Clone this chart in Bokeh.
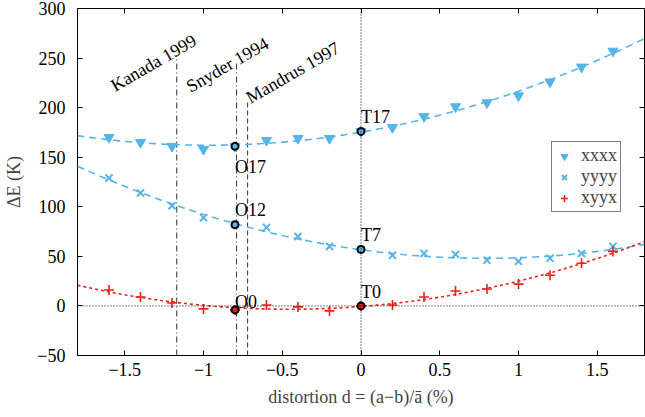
import numpy as np
from bokeh.plotting import figure
from bokeh.models import (ColumnDataSource, Range1d, LinearAxis, FixedTicker,
                          CustomJSTickFormatter, Legend, LegendItem, Span)
from bokeh.core.properties import value
from bokeh.embed import file_html
from bokeh.resources import INLINE

# ---- data ----
d = [-1.6, -1.4, -1.2, -1.0, -0.8, -0.6, -0.4, -0.2, 0.0, 0.2, 0.4, 0.6, 0.8, 1.0, 1.2, 1.4, 1.6]
xxxx = [170, 165, 161, 158, 161, 167, 169, 169, 176, 180, 191, 201, 205, 212, 226, 241, 257]
yyyy = [129, 114, 101, 89, 82, 79, 70, 60, 57, 51, 53, 52, 46, 45, 48, 53, 60]
xyyx = [16, 9, 3, -3, -4, 1, -1, -5, 0, 1, 9, 15, 17, 22, 31, 43, 55]

special_names = ["O17", "O12", "O0", "T17", "T7", "T0"]
special_x = [-0.8, -0.8, -0.8, 0.0, 0.0, 0.0]
special_y = [161, 82, -4, 176, 57, 0]

ref_names = ["Kanada 1999", "Snyder 1994", "Mandrus 1997"]
ref_x = [-1.17, -0.79, -0.72]
ref_top = [253, 245, 206]
ref_text_x = [-1.58, -1.10, -0.72]
ref_text_y = [221, 220, 209]

x_ticks = [-1.5, -1.0, -0.5, 0.0, 0.5, 1.0, 1.5]
y_ticks = [-50, 0, 50, 100, 150, 200, 250, 300]

# ---- styles ----
BLUE = "#56B4E9"
RED = "#E8221A"
FONT = "Liberation Serif"
FS = "18px"

p = figure(width=645, height=417, output_backend="svg", toolbar_location=None,
           x_range=Range1d(-1.8, 1.8), y_range=Range1d(-50, 300),
           min_border_left=77, min_border_right=1, min_border_top=8, min_border_bottom=62)
p.xgrid.visible = False
p.ygrid.visible = False
p.outline_line_color = "black"
p.outline_line_width = 1
p.background_fill_color = "white"
p.border_fill_color = "white"

fmt = CustomJSTickFormatter(code="""
var v = Math.round(tick*10)/10;
return v.toString().replace('-', '\u2212');
""")
for ax in [p.xaxis[0], p.yaxis[0]]:
    ax.major_label_text_font = FONT
    ax.major_label_text_font_size = FS
    ax.major_label_text_color = "black"
    ax.axis_label_text_font = FONT
    ax.axis_label_text_font_size = FS
    ax.axis_label_text_font_style = "normal"
    ax.major_tick_in = 5
    ax.major_tick_out = 0
    ax.minor_tick_line_color = None
    ax.axis_line_color = None
    ax.major_tick_line_color = "black"
    ax.formatter = fmt
p.xaxis[0].ticker = FixedTicker(ticks=x_ticks)
p.yaxis[0].ticker = FixedTicker(ticks=y_ticks)
p.xaxis[0].major_label_standoff = 7
p.yaxis[0].major_label_standoff = 12
p.xaxis[0].axis_label = "distortion d = (a\u2212b)/\u0101 (%)"
p.yaxis[0].axis_label = "\u0394E (K)"
p.xaxis[0].axis_label_standoff = 8
p.yaxis[0].axis_label_standoff = 10

# mirrored ticks (no labels)
blank = CustomJSTickFormatter(code="return '';")
top = LinearAxis(ticker=FixedTicker(ticks=x_ticks), formatter=blank,
                 major_tick_in=5, major_tick_out=0, minor_tick_line_color=None,
                 axis_line_color=None, major_label_standoff=0)
right = LinearAxis(ticker=FixedTicker(ticks=y_ticks), formatter=blank,
                   major_tick_in=5, major_tick_out=0, minor_tick_line_color=None,
                   axis_line_color=None, major_label_standoff=0)
p.add_layout(top, "above")
p.add_layout(right, "right")

# zero lines
p.add_layout(Span(location=0, dimension="width", line_color="black",
                  line_dash="1 2", line_width=1))
p.add_layout(Span(location=0, dimension="height", line_color="black",
                  line_dash="1 2", line_width=1))

# reference lines
ref_src = ColumnDataSource(dict(tx=ref_text_x, ty=ref_text_y, name=ref_names))
dashes = ["6 3 1 3", "6 3 1 3", "5 3"]
for i in range(3):
    p.segment(x0=[ref_x[i]], y0=[-50], x1=[ref_x[i]], y1=[ref_top[i]],
              line_color="#333333", line_width=1, line_dash=dashes[i])
p.text(x="tx", y="ty", text="name", source=ref_src, angle=np.deg2rad(30),
       text_font=value(FONT), text_font_size=FS, text_color="black",
       text_align="left", text_baseline="alphabetic")

# fits
xf = np.linspace(-1.8, 1.8, 200)
fit_x = np.polyval(np.polyfit(d, xxxx, 2), xf)
fit_y = np.polyval(np.polyfit(d, yyyy, 2), xf)
fit_r = np.polyval(np.polyfit(d, xyyx, 2), xf)
p.line(xf, fit_x, line_color=BLUE, line_width=1.6, line_dash="7 5")
p.line(xf, fit_y, line_color=BLUE, line_width=1.6, line_dash="7 5")
p.line(xf, fit_r, line_color=RED, line_width=1.6, line_dash="3 3")

src = ColumnDataSource(dict(d=d, xxxx=xxxx, yyyy=yyyy, xyyx=xyyx))
r1 = p.scatter("d", "xxxx", source=src, marker="inverted_triangle", size=10,
               fill_color=BLUE, line_color=BLUE)
r2 = p.scatter("d", "yyyy", source=src, marker="x", size=10,
               line_color=BLUE, line_width=2)
r3 = p.scatter("d", "xyyx", source=src, marker="cross", size=10,
               line_color=RED, line_width=1.6)

# special points
sp_colors = [BLUE, BLUE, RED, BLUE, BLUE, RED]
sp_src = ColumnDataSource(dict(x=special_x, y=special_y, name=special_names, c=sp_colors))
p.scatter("x", "y", source=sp_src, marker="circle", size=7,
          fill_color="c", line_color="black", line_width=2)
offs = [21, -15, -8, -14, -14, -14]
for name, x, y, o in zip(special_names, special_x, special_y, offs):
    p.text(x=[x], y=[y], text=[name], y_offset=o, x_offset=0,
           text_font=value(FONT), text_font_size=FS, text_color="black",
           text_align="left", text_baseline="alphabetic")

legend = Legend(items=[LegendItem(label="xxxx", renderers=[r1]),
                       LegendItem(label="yyyy", renderers=[r2]),
                       LegendItem(label="xyyx", renderers=[r3])],
                location=(474, 143), label_text_font=FONT, label_text_font_size=FS,
                border_line_color="black", border_line_width=1,
                background_fill_alpha=1, padding=3, spacing=0, margin=0,
                label_height=18, glyph_height=18, glyph_width=18, label_standoff=8)
p.add_layout(legend)

open("out.html", "w").write(file_html(p, INLINE))
